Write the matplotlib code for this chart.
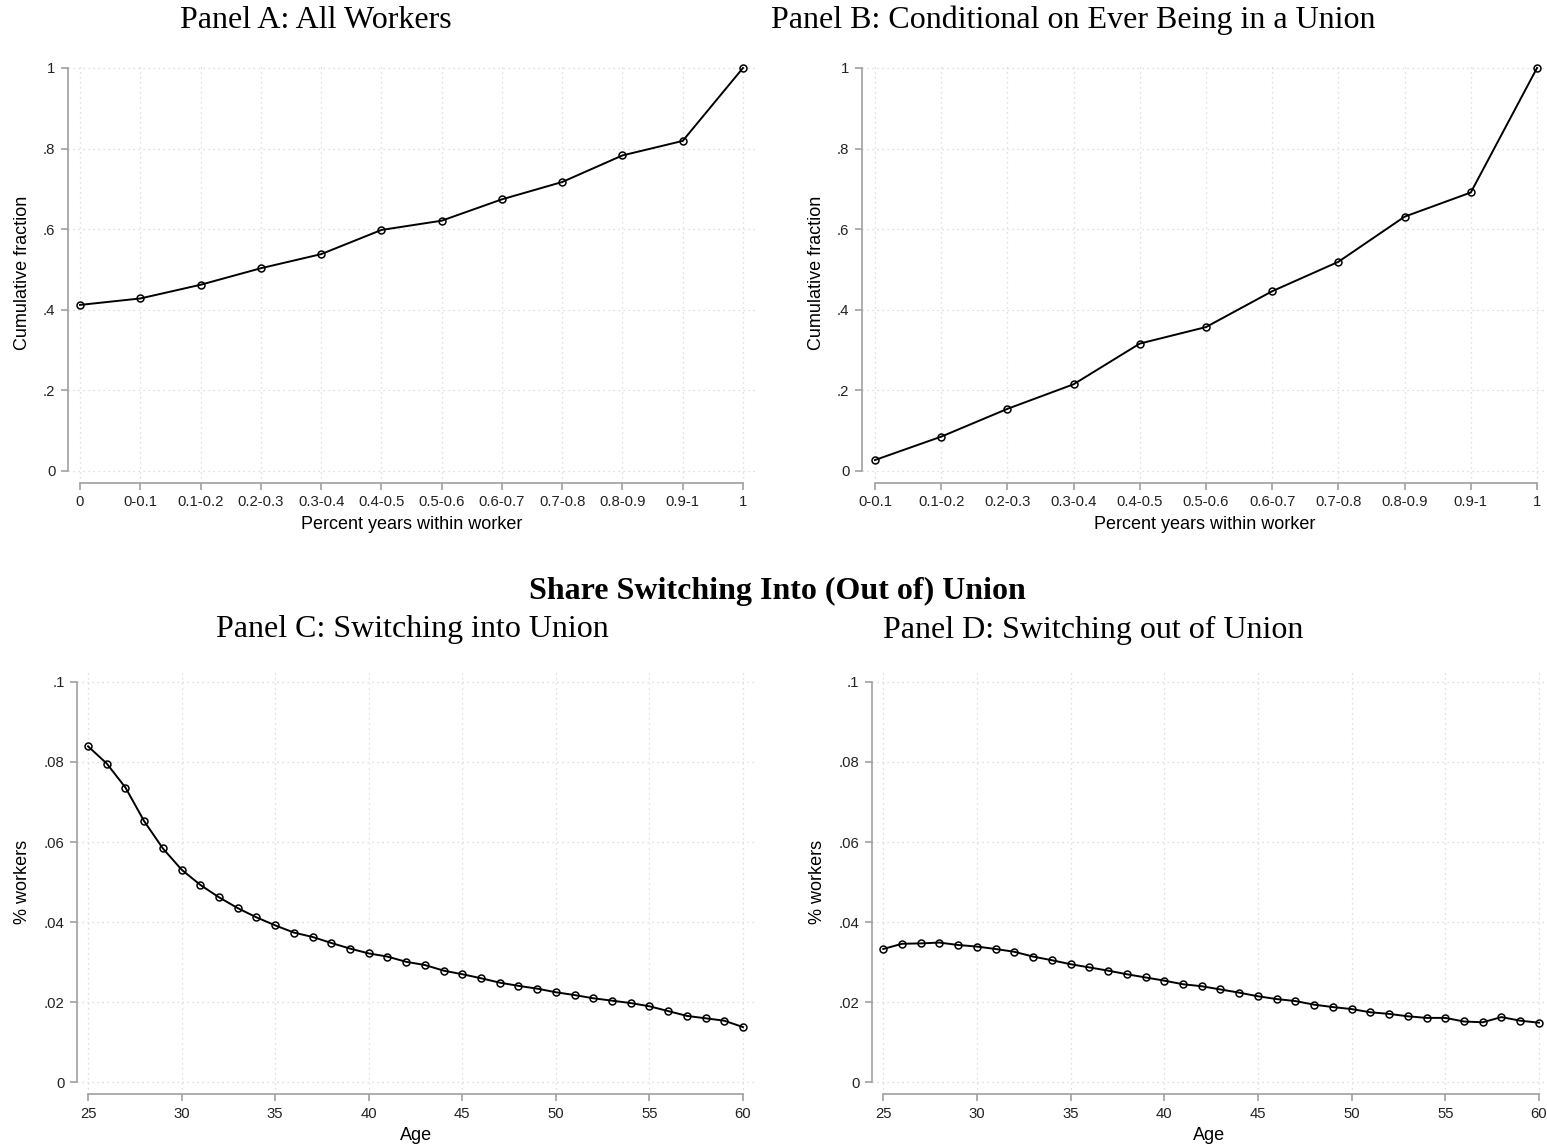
import numpy as np
import matplotlib
matplotlib.use("Agg")
import matplotlib.pyplot as plt

# ---- data ----
cats_a = ["0", "0-0.1", "0.1-0.2", "0.2-0.3", "0.3-0.4", "0.4-0.5", "0.5-0.6",
          "0.6-0.7", "0.7-0.8", "0.8-0.9", "0.9-1", "1"]
cum_a = [0.412, 0.428, 0.462, 0.503, 0.538, 0.598, 0.621, 0.674, 0.717, 0.783, 0.819, 1.0]

cats_b = cats_a[1:]
cum_b = [0.027, 0.085, 0.154, 0.215, 0.316, 0.357, 0.446, 0.519, 0.631, 0.691, 1.0]

ages = list(range(25, 61))
into_union = [0.0839, 0.0796, 0.0736, 0.0652, 0.0584, 0.0531, 0.0493, 0.0462, 0.0435,
              0.0412, 0.0392, 0.0374, 0.0363, 0.0348, 0.0334, 0.0322, 0.0314, 0.0301,
              0.0293, 0.0279, 0.0270, 0.0260, 0.0249, 0.0241, 0.0234, 0.0225, 0.0218,
              0.0210, 0.0204, 0.0198, 0.0190, 0.0178, 0.0166, 0.0160, 0.0154, 0.0138]
out_union = [0.0333, 0.0346, 0.0347, 0.0349, 0.0343, 0.0339, 0.0333, 0.0326, 0.0314,
             0.0305, 0.0295, 0.0287, 0.0279, 0.0270, 0.0262, 0.0254, 0.0245, 0.0240,
             0.0232, 0.0224, 0.0215, 0.0208, 0.0203, 0.0194, 0.0188, 0.0183, 0.0175,
             0.0171, 0.0165, 0.0161, 0.0161, 0.0152, 0.0150, 0.0163, 0.0154, 0.0149]

yticks_ab = [0, 0.2, 0.4, 0.6, 0.8, 1.0]
ylabels_ab = ["0", ".2", ".4", ".6", ".8", "1"]
yticks_cd = [0, 0.02, 0.04, 0.06, 0.08, 0.1]
ylabels_cd = ["0", ".02", ".04", ".06", ".08", ".1"]
xticks_cd = [25, 30, 35, 40, 45, 50, 55, 60]

W, H = 1547, 1146
fig = plt.figure(figsize=(W / 100, H / 100), dpi=100)
plt.rcParams["font.family"] = "Liberation Sans"

SPINE = "#a0a0a0"
GRID = "#d4d4d4"


def box(left, top, right, bottom):
    return [left / W, 1 - bottom / H, (right - left) / W, (bottom - top) / H]


def style(ax, xb, yb):
    for s in ["top", "right"]:
        ax.spines[s].set_visible(False)
    for s in ["left", "bottom"]:
        ax.spines[s].set_color(SPINE)
        ax.spines[s].set_linewidth(1.2)
    ax.spines["bottom"].set_bounds(*xb)
    ax.spines["left"].set_bounds(*yb)
    ax.tick_params(axis="both", colors=SPINE, length=5, width=1.2, labelsize=10.7,
                   labelcolor="#222222", pad=4)
    ax.grid(True, color=GRID, linestyle=(0, (1, 3)), linewidth=0.9)
    ax.set_axisbelow(True)


def line(ax, x, y):
    ax.plot(x, y, color="black", linewidth=1.4, marker="o", markersize=5,
            markerfacecolor="none", markeredgecolor="black", markeredgewidth=1.1,
            clip_on=False)


# Panel A
ax = fig.add_axes(box(68, 63, 755, 483))
xa = np.arange(len(cats_a))
line(ax, xa, cum_a)
ax.set_xlim(-0.2, len(cats_a) - 1 + 0.2)
ax.set_ylim(-0.03, 1.0124)
ax.set_xticks(xa, cats_a)
ax.set_yticks(yticks_ab, ylabels_ab)
ax.set_xlabel("Percent years within worker", fontsize=13, labelpad=5)
ax.set_ylabel("Cumulative fraction", fontsize=13, labelpad=9)
style(ax, (0, len(cats_a) - 1), (0, 1))

# Panel B
ax = fig.add_axes(box(862, 63, 1547, 483))
xb = np.arange(len(cats_b))
line(ax, xb, cum_b)
ax.set_xlim(-0.196, len(cats_b) - 1 + 0.151)
ax.set_ylim(-0.03, 1.0124)
ax.set_xticks(xb, cats_b)
ax.set_yticks(yticks_ab, ylabels_ab)
ax.set_xlabel("Percent years within worker", fontsize=13, labelpad=5)
ax.set_ylabel("Cumulative fraction", fontsize=13, labelpad=9)
style(ax, (0, len(cats_b) - 1), (0, 1))

# Panel C
ax = fig.add_axes(box(77, 669, 755, 1094))
line(ax, ages, into_union)
ax.set_xlim(24.41, 60.64)
ax.set_ylim(-0.0029, 0.1032)
ax.set_xticks(xticks_cd)
ax.set_yticks(yticks_cd, ylabels_cd)
ax.set_xlabel("Age", fontsize=13, labelpad=5)
ax.set_ylabel("% workers", fontsize=13, labelpad=9)
style(ax, (25, 60), (0, 0.1))

# Panel D
ax = fig.add_axes(box(872, 669, 1547, 1094))
line(ax, ages, out_union)
ax.set_xlim(24.40, 60.43)
ax.set_ylim(-0.0029, 0.1032)
ax.set_xticks(xticks_cd)
ax.set_yticks(yticks_cd, ylabels_cd)
ax.set_xlabel("Age", fontsize=13, labelpad=5)
ax.set_ylabel("% workers", fontsize=13, labelpad=9)
style(ax, (25, 60), (0, 0.1))

# titles
serif = "Liberation Serif"
fig.text(316 / W, 1 - 20 / H, "Panel A: All Workers", family=serif, fontsize=23,
         ha="center", va="center")
fig.text(1073 / W, 1 - 20 / H, "Panel B: Conditional on Ever Being in a Union",
         family=serif, fontsize=23, ha="center", va="center")
fig.text(777 / W, 1 - 591 / H, "Share Switching Into (Out of) Union", family=serif,
         fontsize=23, fontweight="bold", ha="center", va="center")
fig.text(412 / W, 1 - 630 / H, "Panel C: Switching into Union", family=serif,
         fontsize=23, ha="center", va="center")
fig.text(1093 / W, 1 - 630 / H, "Panel D: Switching out of Union", family=serif,
         fontsize=23, ha="center", va="center")

fig.savefig("out.png", dpi=100, facecolor="white")
